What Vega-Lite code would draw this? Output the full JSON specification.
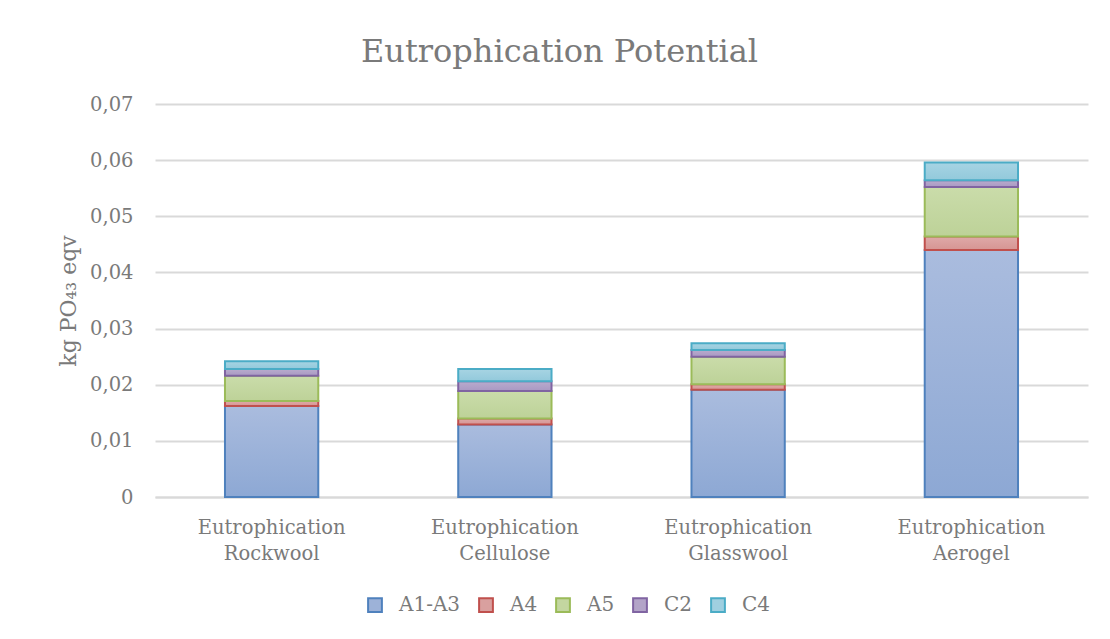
{
  "$schema": "https://vega.github.io/schema/vega-lite/v6.json",
  "autosize": "none",
  "width": 933,
  "height": 393,
  "padding": {"left": 155, "top": 104, "right": 22, "bottom": 142},
  "background": "white",
  "title": {
    "text": "Eutrophication  Potential",
    "font": "DejaVu Serif",
    "fontSize": 32,
    "fontWeight": "normal",
    "color": "#7a7a7a",
    "anchor": "middle",
    "dx": -62,
    "offset": 25
  },
  "data": {
    "values": [
      {"product": "Eutrophication Rockwool", "stage": "A1-A3", "value": 0.0162},
      {"product": "Eutrophication Rockwool", "stage": "A4", "value": 0.0009},
      {"product": "Eutrophication Rockwool", "stage": "A5", "value": 0.0045},
      {"product": "Eutrophication Rockwool", "stage": "C2", "value": 0.0012},
      {"product": "Eutrophication Rockwool", "stage": "C4", "value": 0.0014},
      {"product": "Eutrophication Cellulose", "stage": "A1-A3", "value": 0.0129},
      {"product": "Eutrophication Cellulose", "stage": "A4", "value": 0.0011},
      {"product": "Eutrophication Cellulose", "stage": "A5", "value": 0.0049},
      {"product": "Eutrophication Cellulose", "stage": "C2", "value": 0.0017},
      {"product": "Eutrophication Cellulose", "stage": "C4", "value": 0.0022},
      {"product": "Eutrophication Glasswool", "stage": "A1-A3", "value": 0.0191},
      {"product": "Eutrophication Glasswool", "stage": "A4", "value": 0.0010},
      {"product": "Eutrophication Glasswool", "stage": "A5", "value": 0.0049},
      {"product": "Eutrophication Glasswool", "stage": "C2", "value": 0.0012},
      {"product": "Eutrophication Glasswool", "stage": "C4", "value": 0.0012},
      {"product": "Eutrophication Aerogel", "stage": "A1-A3", "value": 0.0440},
      {"product": "Eutrophication Aerogel", "stage": "A4", "value": 0.0024},
      {"product": "Eutrophication Aerogel", "stage": "A5", "value": 0.0088},
      {"product": "Eutrophication Aerogel", "stage": "C2", "value": 0.0012},
      {"product": "Eutrophication Aerogel", "stage": "C4", "value": 0.0032}
    ]
  },
  "mark": {"type": "bar", "strokeWidth": 2},
  "encoding": {
    "x": {
      "field": "product",
      "type": "nominal",
      "sort": null,
      "scale": {"paddingInner": 0.6, "paddingOuter": 0.3},
      "axis": {
        "title": null,
        "labelAngle": 0,
        "labelExpr": "split(datum.label, ' ')",
        "labelFont": "DejaVu Serif",
        "labelFontSize": 19.5,
        "labelColor": "#7a7a7a",
        "labelPadding": 21,
        "labelLineHeight": 26,
        "ticks": false,
        "domainColor": "#d9d9d9",
        "domainWidth": 2,
        "grid": false
      }
    },
    "y": {
      "field": "value",
      "type": "quantitative",
      "stack": "zero",
      "scale": {"domain": [0, 0.07], "nice": false},
      "axis": {
        "title": "kg PO₄₃ eqv",
        "titleFont": "DejaVu Serif",
        "titleFontSize": 22,
        "titleFontWeight": "normal",
        "titleColor": "#7a7a7a",
        "titlePadding": 9,
        "values": [0, 0.01, 0.02, 0.03, 0.04, 0.05, 0.06, 0.07],
        "labelExpr": "datum.value == 0 ? '0' : replace(format(datum.value, '.2f'), '.', ',')",
        "labelFont": "DejaVu Serif",
        "labelFontSize": 19.5,
        "labelColor": "#7a7a7a",
        "labelPadding": 22,
        "ticks": false,
        "domain": false,
        "gridColor": "#d9d9d9",
        "gridWidth": 2
      }
    },
    "order": {"field": "stage", "type": "nominal", "sort": "ascending"},
    "fill": {
      "field": "stage",
      "type": "nominal",
      "condition": [
        {"test": "datum.stage === 'A1-A3'", "value": {"gradient": "linear", "x1": 0, "y1": 0, "x2": 0, "y2": 1, "stops": [{"offset": 0, "color": "#aabcde"}, {"offset": 1, "color": "#8da8d4"}]}},
        {"test": "datum.stage === 'A4'", "value": {"gradient": "linear", "x1": 0, "y1": 0, "x2": 0, "y2": 1, "stops": [{"offset": 0, "color": "#dfaaa9"}, {"offset": 1, "color": "#d69593"}]}},
        {"test": "datum.stage === 'A5'", "value": {"gradient": "linear", "x1": 0, "y1": 0, "x2": 0, "y2": 1, "stops": [{"offset": 0, "color": "#cadcaa"}, {"offset": 1, "color": "#bdd298"}]}},
        {"test": "datum.stage === 'C2'", "value": {"gradient": "linear", "x1": 0, "y1": 0, "x2": 0, "y2": 1, "stops": [{"offset": 0, "color": "#b9abcd"}, {"offset": 1, "color": "#a999c3"}]}},
        {"test": "datum.stage === 'C4'", "value": {"gradient": "linear", "x1": 0, "y1": 0, "x2": 0, "y2": 1, "stops": [{"offset": 0, "color": "#a7d4e3"}, {"offset": 1, "color": "#92c9db"}]}}
      ],
      "scale": {
        "domain": ["A1-A3", "A4", "A5", "C2", "C4"],
        "range": ["#9db2d8", "#d9a09f", "#c3d6a0", "#b3a4c8", "#9fcfe0"]
      },
      "legend": {
        "title": null,
        "orient": "none",
        "direction": "horizontal",
        "legendX": 210,
        "legendY": 491,
        "symbolType": "square",
        "symbolSize": 190,
        "symbolStrokeWidth": 2,
        "labelFont": "DejaVu Serif",
        "labelFontSize": 20,
        "labelColor": "#7a7a7a",
        "labelOffset": 14,
        "columnPadding": 14
      }
    },
    "stroke": {
      "field": "stage",
      "type": "nominal",
      "scale": {
        "domain": ["A1-A3", "A4", "A5", "C2", "C4"],
        "range": ["#4f81bd", "#c0504d", "#9bbb59", "#8064a2", "#4bacc6"]
      },
      "legend": {
        "title": null,
        "orient": "none",
        "direction": "horizontal",
        "legendX": 210,
        "legendY": 491,
        "symbolType": "square",
        "symbolSize": 190,
        "symbolStrokeWidth": 2,
        "labelFont": "DejaVu Serif",
        "labelFontSize": 20,
        "labelColor": "#7a7a7a",
        "labelOffset": 14,
        "columnPadding": 14
      }
    }
  },
  "config": {"view": {"stroke": null}}
}
